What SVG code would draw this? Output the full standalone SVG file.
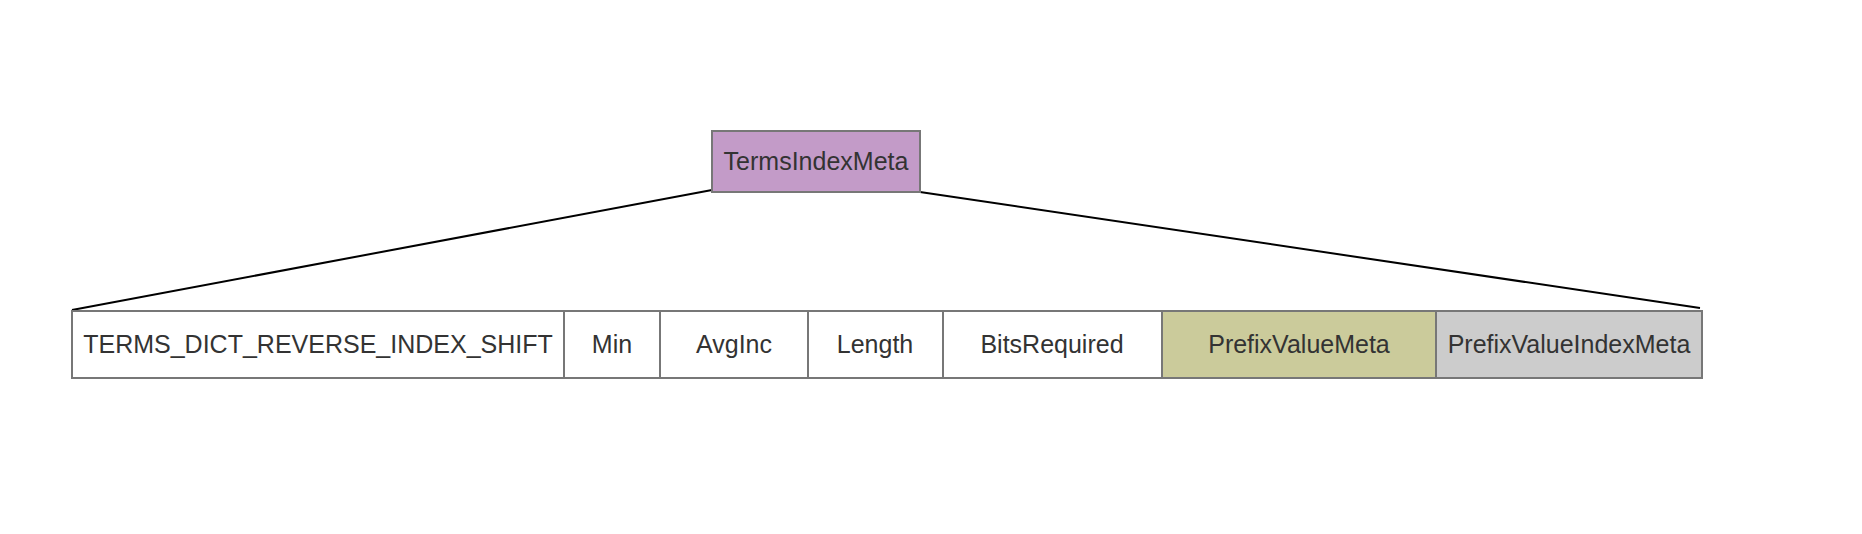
<svg xmlns="http://www.w3.org/2000/svg" width="1862" height="534" viewBox="0 0 1862 534">
<style>
.box{stroke:#777777;stroke-width:2}
.t{font-family:"Liberation Sans",Arial,sans-serif;font-size:25px;fill:#333333;text-anchor:middle}
.c{stroke:#000000;stroke-width:2;fill:none}
</style>
<rect width="1862" height="534" fill="#ffffff"/>
<g id="connectors">
<line class="c" x1="712" y1="190" x2="72" y2="310"/>
<line class="c" x1="920" y1="192" x2="1700" y2="308"/>
</g>
<g id="TermsIndexMeta">
<rect class="box" x="712" y="131" width="208" height="61" fill="#C39BC8"/>
<text class="t" x="816" y="170">TermsIndexMeta</text>
</g>
<g id="TERMS_DICT_REVERSE_INDEX_SHIFT">
<rect class="box" x="72" y="311" width="492" height="67" fill="#ffffff"/>
<text class="t" x="318" y="353">TERMS_DICT_REVERSE_INDEX_SHIFT</text>
</g>
<g id="Min">
<rect class="box" x="564" y="311" width="96" height="67" fill="#ffffff"/>
<text class="t" x="612" y="353">Min</text>
</g>
<g id="AvgInc">
<rect class="box" x="660" y="311" width="148" height="67" fill="#ffffff"/>
<text class="t" x="734" y="353">AvgInc</text>
</g>
<g id="Length">
<rect class="box" x="808" y="311" width="135" height="67" fill="#ffffff"/>
<text class="t" x="875" y="353">Length</text>
</g>
<g id="BitsRequired">
<rect class="box" x="943" y="311" width="219" height="67" fill="#ffffff"/>
<text class="t" x="1052" y="353">BitsRequired</text>
</g>
<g id="PrefixValueMeta">
<rect class="box" x="1162" y="311" width="274" height="67" fill="#CBCB9B"/>
<text class="t" x="1299" y="353">PrefixValueMeta</text>
</g>
<g id="PrefixValueIndexMeta">
<rect class="box" x="1436" y="311" width="266" height="67" fill="#CCCCCC"/>
<text class="t" x="1569" y="353">PrefixValueIndexMeta</text>
</g>
</svg>
